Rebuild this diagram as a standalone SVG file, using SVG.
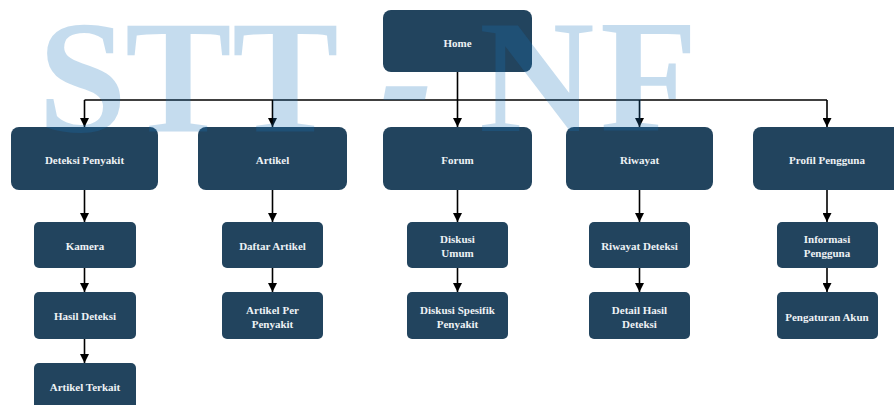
<svg xmlns="http://www.w3.org/2000/svg" width="894" height="405" viewBox="0 0 894 405">
<style>
.box{fill:#22445e}
.lbl{font-family:"Liberation Serif","DejaVu Serif",serif;font-weight:bold;font-size:11px;fill:#eef2f5;text-anchor:middle}
.conn{stroke:#000;stroke-width:1.6;fill:none}
.wm{font-family:"Liberation Serif","DejaVu Serif",serif;font-weight:bold;font-size:160px;fill:#1672bb;fill-opacity:0.25}
</style>
<defs>
<marker id="ah" viewBox="0 0 10 10" refX="10" refY="5" markerWidth="9" markerHeight="9" markerUnits="userSpaceOnUse" orient="auto">
<path d="M0,0 L10,5 L0,10 Z" fill="#000"/>
</marker>
</defs>
<rect width="894" height="405" fill="#fff"/>
<g id="connectors">
<path class="conn" d="M457.5,72 V100"/>
<path class="conn" d="M84.5,100 H827"/>
<path class="conn" d="M84.5,100 V127" marker-end="url(#ah)"/>
<path class="conn" d="M272.5,100 V127" marker-end="url(#ah)"/>
<path class="conn" d="M457.5,100 V127" marker-end="url(#ah)"/>
<path class="conn" d="M639.5,100 V127" marker-end="url(#ah)"/>
<path class="conn" d="M827,100 V127" marker-end="url(#ah)"/>
<path class="conn" d="M84.5,190 V222" marker-end="url(#ah)"/>
<path class="conn" d="M84.5,268 V292" marker-end="url(#ah)"/>
<path class="conn" d="M84.5,339 V363" marker-end="url(#ah)"/>
<path class="conn" d="M272.5,190 V222" marker-end="url(#ah)"/>
<path class="conn" d="M272.5,268 V292" marker-end="url(#ah)"/>
<path class="conn" d="M457.5,190 V222" marker-end="url(#ah)"/>
<path class="conn" d="M457.5,268 V292" marker-end="url(#ah)"/>
<path class="conn" d="M639.5,190 V222" marker-end="url(#ah)"/>
<path class="conn" d="M639.5,268 V292" marker-end="url(#ah)"/>
<path class="conn" d="M827,190 V222" marker-end="url(#ah)"/>
<path class="conn" d="M827,268 V292" marker-end="url(#ah)"/>
</g>
<g id="home"><rect class="box" x="383" y="10" width="149" height="62" rx="8"/><text class="lbl" x="457.5" y="47">Home</text></g>
<g id="deteksi"><rect class="box" x="11" y="127" width="147" height="63" rx="8"/><text class="lbl" x="84.5" y="164">Deteksi Penyakit</text></g>
<g id="artikel"><rect class="box" x="198" y="127" width="149" height="63" rx="8"/><text class="lbl" x="272.5" y="164">Artikel</text></g>
<g id="forum"><rect class="box" x="383" y="127" width="149" height="63" rx="8"/><text class="lbl" x="457.5" y="164">Forum</text></g>
<g id="riwayat"><rect class="box" x="566" y="127" width="147" height="63" rx="8"/><text class="lbl" x="639.5" y="164">Riwayat</text></g>
<g id="profil"><rect class="box" x="753" y="127" width="148" height="63" rx="8"/><text class="lbl" x="827" y="164">Profil Pengguna</text></g>
<g id="kamera"><rect class="box" x="34" y="222" width="102" height="46" rx="5"/><text class="lbl" x="85" y="250">Kamera</text></g>
<g id="hasil-deteksi"><rect class="box" x="34" y="292" width="102" height="47" rx="5"/><text class="lbl" x="85" y="320">Hasil Deteksi</text></g>
<g id="artikel-terkait"><rect class="box" x="34" y="363" width="102" height="50" rx="5"/><text class="lbl" x="85" y="391">Artikel Terkait</text></g>
<g id="daftar-artikel"><rect class="box" x="222" y="222" width="101" height="46" rx="5"/><text class="lbl" x="272.5" y="250">Daftar Artikel</text></g>
<g id="artikel-per-penyakit"><rect class="box" x="222" y="292" width="101" height="47" rx="5"/><text class="lbl" x="272.5" y="314">Artikel Per</text><text class="lbl" x="272.5" y="327.5">Penyakit</text></g>
<g id="diskusi-umum"><rect class="box" x="407" y="222" width="101" height="46" rx="5"/><text class="lbl" x="457.5" y="243">Diskusi</text><text class="lbl" x="457.5" y="256.5">Umum</text></g>
<g id="diskusi-spesifik"><rect class="box" x="407" y="292" width="101" height="47" rx="5"/><text class="lbl" x="457.5" y="314">Diskusi Spesifik</text><text class="lbl" x="457.5" y="327.5">Penyakit</text></g>
<g id="riwayat-deteksi"><rect class="box" x="589" y="222" width="101" height="46" rx="5"/><text class="lbl" x="639.5" y="250">Riwayat Deteksi</text></g>
<g id="detail-hasil"><rect class="box" x="589" y="292" width="101" height="47" rx="5"/><text class="lbl" x="639.5" y="314">Detail Hasil</text><text class="lbl" x="639.5" y="327.5">Deteksi</text></g>
<g id="informasi-pengguna"><rect class="box" x="777" y="222" width="101" height="46" rx="5"/><text class="lbl" x="827" y="243">Informasi</text><text class="lbl" x="827" y="256.5">Pengguna</text></g>
<g id="pengaturan-akun"><rect class="box" x="777" y="292" width="101" height="47" rx="5"/><text class="lbl" x="827" y="321">Pengaturan Akun</text></g>
<g id="watermark">
<text class="wm" y="131"><tspan x="38 125 232 350">STT </tspan><tspan x="380" font-style="italic">-</tspan><tspan x="450 479 600"> NF</tspan></text>
</g>
</svg>
